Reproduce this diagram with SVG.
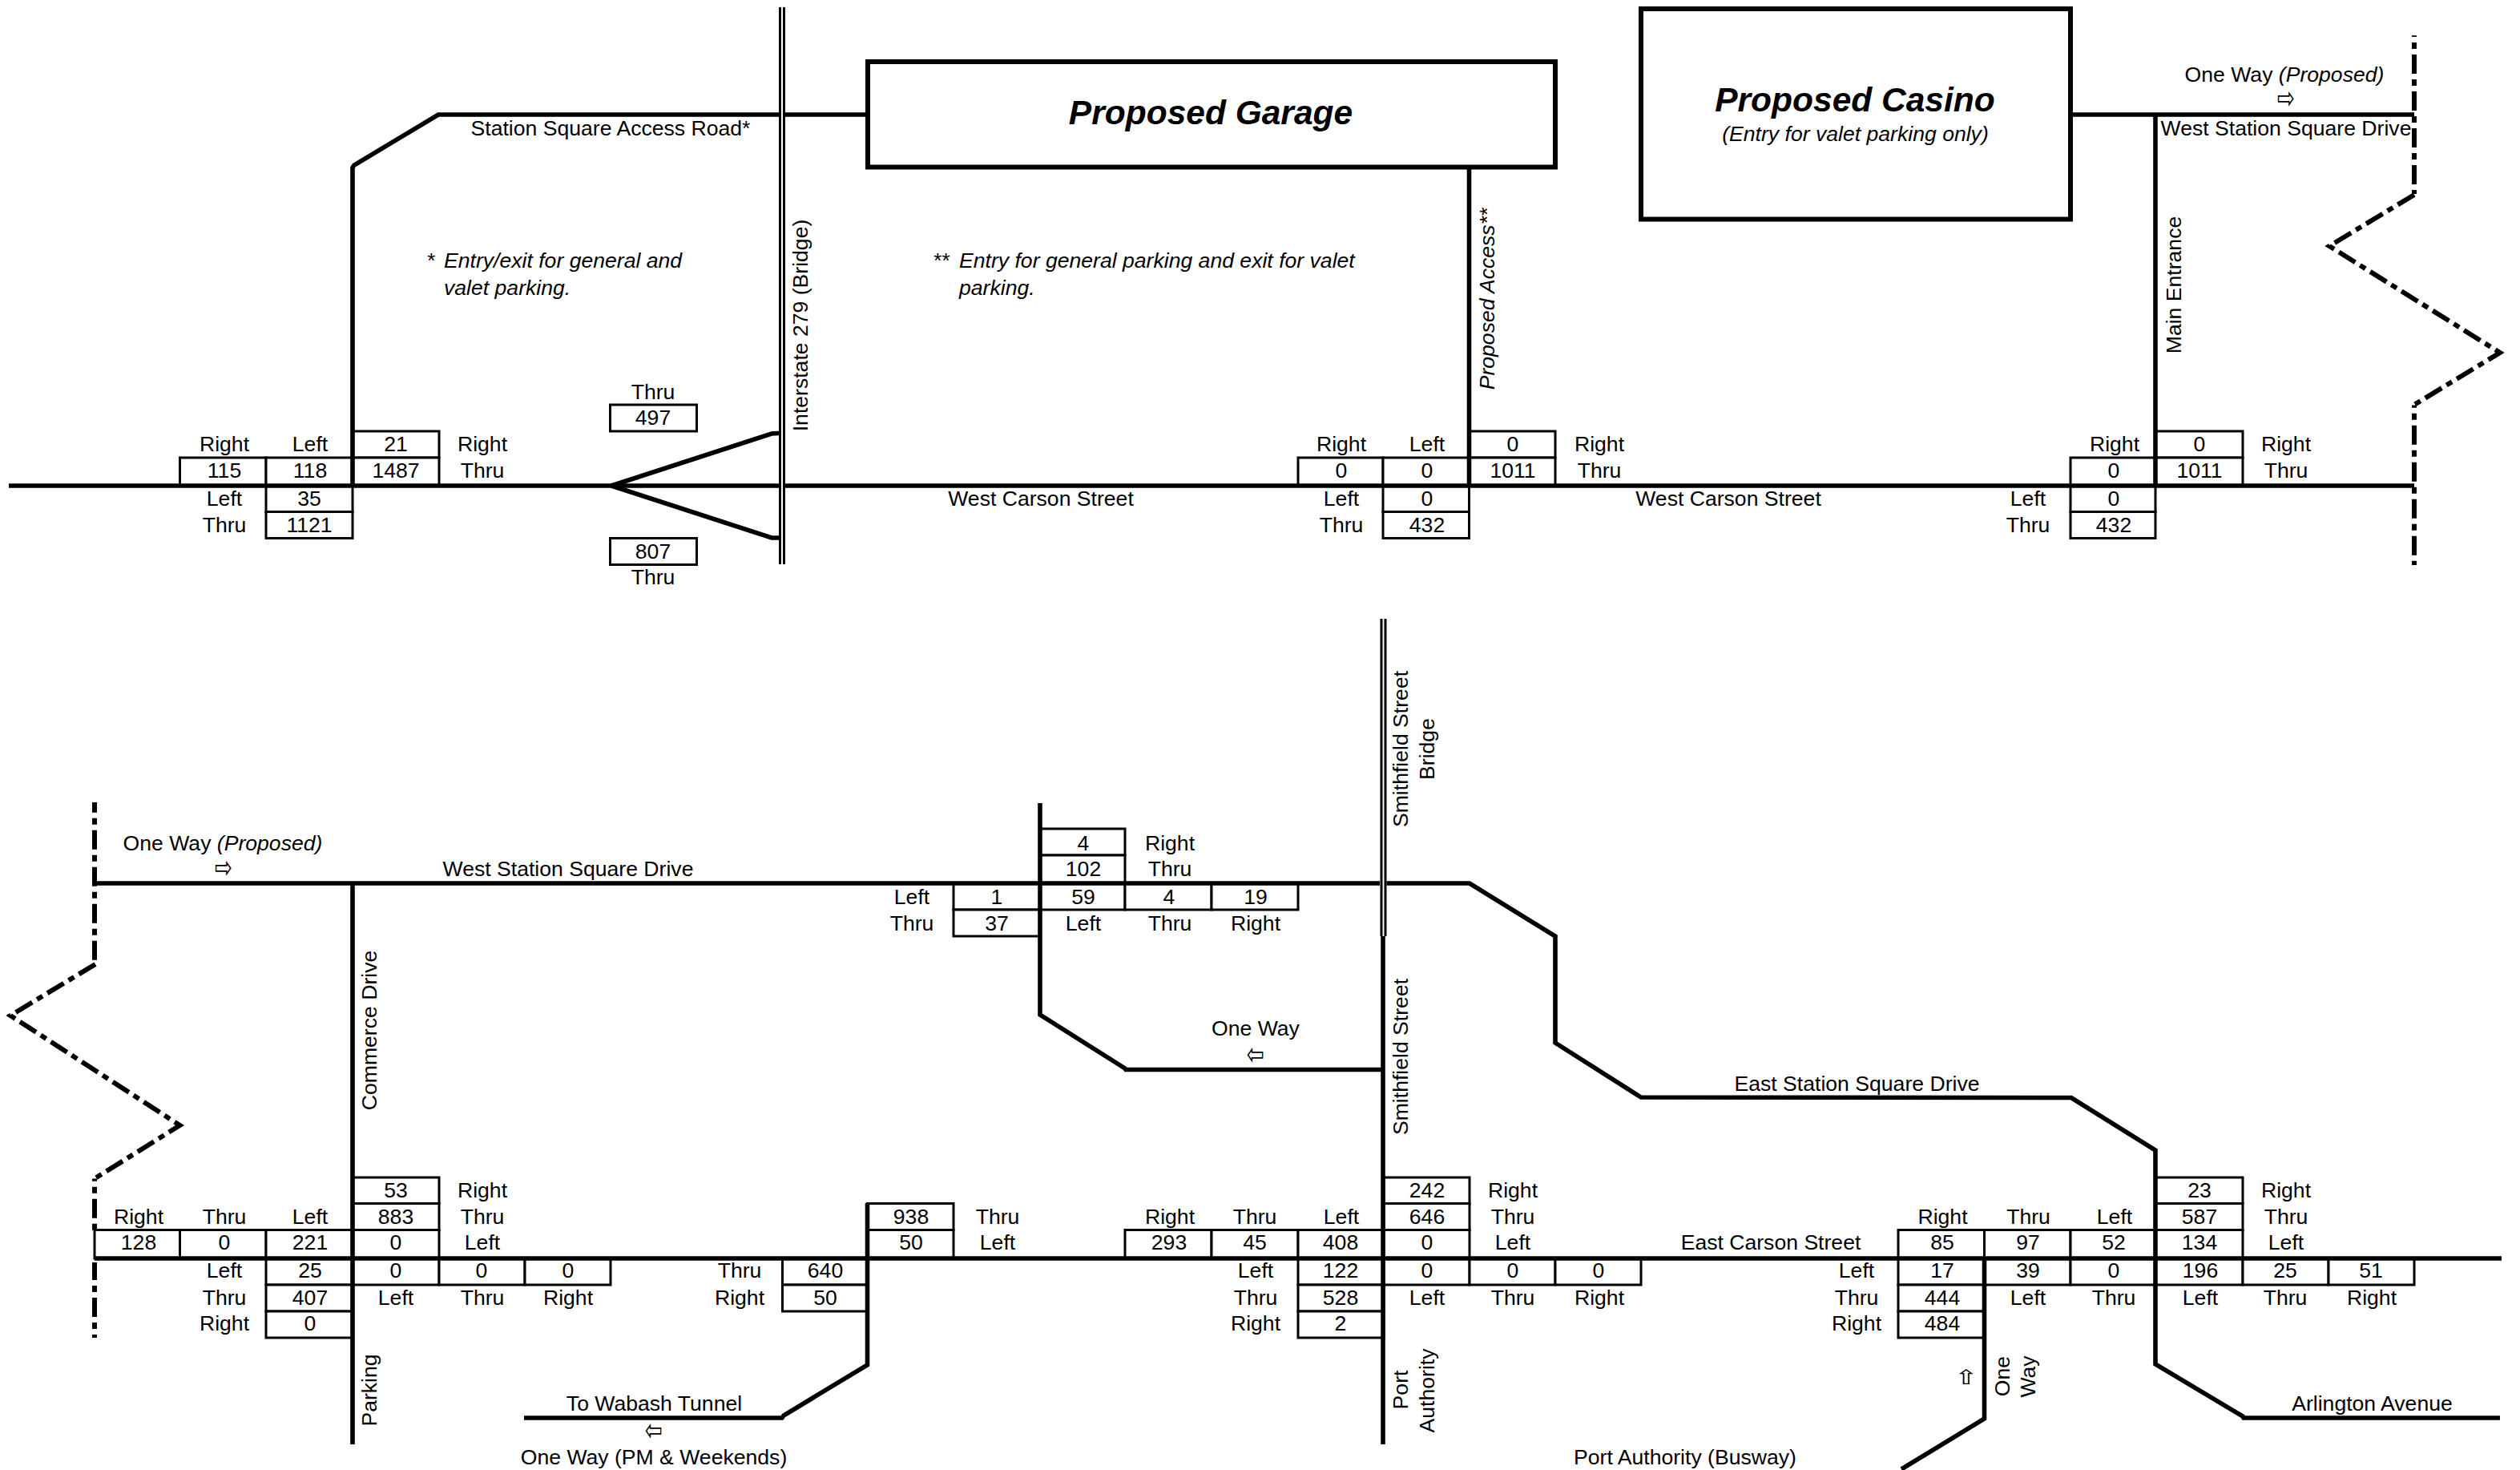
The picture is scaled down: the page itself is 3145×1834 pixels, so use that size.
<svg xmlns="http://www.w3.org/2000/svg" width="3145" height="1834" viewBox="0 0 3145 1834">
<style>
text{font-family:"Liberation Sans",Arial,sans-serif;font-size:26.6px;fill:#000;text-anchor:middle}
.i{font-style:italic}
.s{text-anchor:start}
.h{font-size:42.5px;font-weight:bold;font-style:italic}
.a{font-family:"DejaVu Sans",sans-serif;font-size:25px}
.b rect{fill:#fff;stroke:#000;stroke-width:3}
.r{fill:none;stroke:#000;stroke-width:5.6}
.d{fill:none;stroke:#000;stroke-width:6;stroke-dasharray:24 7 8 7}
.l{fill:#fff;stroke:#000;stroke-width:6}
.br{stroke:#000;stroke-width:3;fill:none}
</style>
<rect width="3145" height="1834" fill="#fff"/>
<g id="boundaries">
<path class="d" stroke-dashoffset="22.3" d="M3013 44.3V242"/>
<path class="d" d="M3013 243L2907 307L3120 440L3013 505"/>
<path class="d" stroke-dashoffset="20.8" d="M3013 505.500V705"/>
<path class="d" stroke-dashoffset="11.3" d="M118 1001V1198.300"/>
<path class="d" d="M119 1203L13 1267L224.500 1404L118 1470.500"/>
<path class="d" stroke-dashoffset="20.8" d="M118 1470.500V1535"/>
<path class="d" stroke-dashoffset="2" d="M118 1575V1669"/>
</g>
<g id="int-top-1" class="b">
<rect x="224.500" y="571" width="107.500" height="35"/><rect x="332" y="571" width="108" height="35"/>
<rect x="440" y="538" width="108" height="33"/><rect x="440" y="571" width="108" height="35"/>
<rect x="332" y="606" width="108" height="32.500"/><rect x="332" y="638.500" width="108" height="33"/>
<text x="280" y="563">Right</text><text x="387" y="563">Left</text><text x="602" y="563">Right</text><text x="602" y="596">Thru</text>
<text x="280" y="596">115</text><text x="387" y="596">118</text><text x="494" y="563">21</text><text x="494" y="596">1487</text>
<text x="280" y="631">Left</text><text x="280" y="664">Thru</text><text x="386" y="631">35</text><text x="386" y="664">1121</text>
</g>
<g id="int-top-bridge" class="b">
<rect x="761.500" y="505" width="108" height="33"/><rect x="761.500" y="671.500" width="108" height="33"/>
<text x="815" y="498">Thru</text><text x="815" y="530">497</text><text x="815" y="697">807</text><text x="815" y="729">Thru</text>
</g>
<g id="int-top-2" class="b">
<rect x="1620" y="571" width="106" height="35"/><rect x="1726" y="571" width="107.500" height="35"/>
<rect x="1833.500" y="538" width="107.500" height="33"/><rect x="1833.500" y="571" width="107.500" height="35"/>
<rect x="1726" y="606" width="107.500" height="32.500"/><rect x="1726" y="638.500" width="107.500" height="33"/>
<text x="1674" y="563">Right</text><text x="1781" y="563">Left</text><text x="1996" y="563">Right</text><text x="1996" y="596">Thru</text>
<text x="1674" y="596">0</text><text x="1781" y="596">0</text><text x="1888" y="563">0</text><text x="1888" y="596">1011</text>
<text x="1674" y="631">Left</text><text x="1674" y="664">Thru</text><text x="1781" y="631">0</text><text x="1781" y="664">432</text>
</g>
<g id="int-top-3" class="b">
<rect x="2584" y="571" width="106" height="35"/><rect x="2690" y="538" width="109" height="33"/><rect x="2690" y="571" width="109" height="35"/>
<rect x="2584" y="606" width="106" height="32.500"/><rect x="2584" y="638.500" width="106" height="33"/>
<text x="2639" y="563">Right</text><text x="2853" y="563">Right</text><text x="2853" y="596">Thru</text>
<text x="2638" y="596">0</text><text x="2745" y="563">0</text><text x="2745" y="596">1011</text>
<text x="2531" y="631">Left</text><text x="2531" y="664">Thru</text><text x="2638" y="631">0</text><text x="2638" y="664">432</text>
</g>
<g id="garage"><rect class="l" x="1083" y="77" width="858" height="131.500"/><text class="h" x="1511" y="155">Proposed Garage</text></g>
<g id="casino"><rect class="l" x="2048" y="11" width="536" height="262.500"/><text class="h" x="2315" y="138.500">Proposed Casino</text><text class="i" x="2315.500" y="175.500">(Entry for valet parking only)</text></g>
<g id="int-bot-1" class="b">
<rect x="118" y="1534.500" width="106.500" height="35.500"/><rect x="224.500" y="1534.500" width="107.500" height="35.500"/><rect x="332" y="1534.500" width="108" height="35.500"/>
<rect x="440" y="1469" width="108" height="32.500"/><rect x="440" y="1501.500" width="108" height="33"/><rect x="440" y="1534.500" width="108" height="35.500"/>
<rect x="332" y="1570" width="108" height="33"/><rect x="332" y="1603" width="108" height="33"/><rect x="332" y="1636" width="108" height="33"/>
<rect x="440" y="1570" width="108" height="33"/><rect x="548" y="1570" width="107" height="33"/><rect x="655" y="1570" width="107" height="33"/>
<text x="173" y="1527">Right</text><text x="280" y="1527">Thru</text><text x="387" y="1527">Left</text>
<text x="173" y="1558.500">128</text><text x="280" y="1558.500">0</text><text x="387" y="1558.500">221</text>
<text x="494" y="1494">53</text><text x="494" y="1527">883</text><text x="494" y="1558.500">0</text>
<text x="602" y="1494">Right</text><text x="602" y="1527">Thru</text><text x="602" y="1558.500">Left</text>
<text x="280" y="1594">Left</text><text x="280" y="1628">Thru</text><text x="280" y="1660">Right</text>
<text x="387" y="1594">25</text><text x="387" y="1628">407</text><text x="387" y="1660">0</text>
<text x="494" y="1594">0</text><text x="601" y="1594">0</text><text x="709" y="1594">0</text>
<text x="494" y="1628">Left</text><text x="602" y="1628">Thru</text><text x="709" y="1628">Right</text>
</g>
<g id="int-bot-2" class="b">
<rect x="976.500" y="1570" width="106" height="33"/><rect x="976.500" y="1603" width="106" height="33"/>
<rect x="1082.500" y="1501.500" width="107.500" height="33"/><rect x="1082.500" y="1534.500" width="107.500" height="35.500"/>
<text x="923" y="1594">Thru</text><text x="923" y="1628">Right</text><text x="1030" y="1594">640</text><text x="1030" y="1628">50</text>
<text x="1137" y="1527">938</text><text x="1137" y="1558.500">50</text><text x="1245" y="1527">Thru</text><text x="1245" y="1558.500">Left</text>
</g>
<g id="int-mid" class="b">
<rect x="1298" y="1034" width="106" height="33"/><rect x="1298" y="1067" width="106" height="35"/>
<rect x="1190" y="1102" width="108" height="33"/><rect x="1190" y="1135" width="108" height="33"/>
<rect x="1298" y="1102" width="106" height="33"/><rect x="1404" y="1102" width="108" height="33"/><rect x="1512" y="1102" width="108" height="33"/>
<text x="1352" y="1061">4</text><text x="1352" y="1093">102</text><text x="1460" y="1061">Right</text><text x="1460" y="1093">Thru</text>
<text x="1138" y="1127.500">Left</text><text x="1138" y="1161">Thru</text><text x="1244" y="1127.500">1</text><text x="1244" y="1161">37</text>
<text x="1352" y="1127.500">59</text><text x="1459" y="1127.500">4</text><text x="1567" y="1127.500">19</text>
<text x="1352" y="1161">Left</text><text x="1460" y="1161">Thru</text><text x="1567" y="1161">Right</text>
</g>
<g id="int-bot-3" class="b">
<rect x="1404" y="1534.500" width="108" height="35.500"/><rect x="1512" y="1534.500" width="108" height="35.500"/><rect x="1620" y="1534.500" width="107" height="35.500"/>
<rect x="1727" y="1469" width="107" height="32.500"/><rect x="1727" y="1501.500" width="107" height="33"/><rect x="1727" y="1534.500" width="107" height="35.500"/>
<rect x="1620" y="1570" width="107" height="33"/><rect x="1620" y="1603" width="107" height="33"/><rect x="1620" y="1636" width="107" height="33"/>
<rect x="1727" y="1570" width="107" height="33"/><rect x="1834" y="1570" width="107" height="33"/><rect x="1941" y="1570" width="107" height="33"/>
<text x="1460" y="1527">Right</text><text x="1566" y="1527">Thru</text><text x="1674" y="1527">Left</text>
<text x="1459" y="1558.500">293</text><text x="1566" y="1558.500">45</text><text x="1673" y="1558.500">408</text>
<text x="1781" y="1494">242</text><text x="1781" y="1527">646</text><text x="1781" y="1558.500">0</text>
<text x="1888" y="1494">Right</text><text x="1888" y="1527">Thru</text><text x="1888" y="1558.500">Left</text>
<text x="1567" y="1594">Left</text><text x="1567" y="1628">Thru</text><text x="1567" y="1660">Right</text>
<text x="1673" y="1594">122</text><text x="1673" y="1628">528</text><text x="1673" y="1660">2</text>
<text x="1781" y="1594">0</text><text x="1888" y="1594">0</text><text x="1995" y="1594">0</text>
<text x="1781" y="1628">Left</text><text x="1888" y="1628">Thru</text><text x="1996" y="1628">Right</text>
</g>
<g id="int-bot-4" class="b">
<rect x="2369" y="1534.500" width="107.500" height="35.500"/><rect x="2476.500" y="1534.500" width="107.500" height="35.500"/><rect x="2584" y="1534.500" width="106" height="35.500"/>
<rect x="2690" y="1469" width="109" height="32.500"/><rect x="2690" y="1501.500" width="109" height="33"/><rect x="2690" y="1534.500" width="109" height="35.500"/>
<rect x="2369" y="1570" width="107.500" height="33"/><rect x="2369" y="1603" width="107.500" height="33"/><rect x="2369" y="1636" width="107.500" height="33"/>
<rect x="2476.500" y="1570" width="107.500" height="33"/><rect x="2584" y="1570" width="106" height="33"/><rect x="2690" y="1570" width="109" height="33"/><rect x="2799" y="1570" width="107" height="33"/><rect x="2906" y="1570" width="107" height="33"/>
<text x="2424.500" y="1527">Right</text><text x="2531.500" y="1527">Thru</text><text x="2639" y="1527">Left</text>
<text x="2424" y="1558.500">85</text><text x="2531" y="1558.500">97</text><text x="2638" y="1558.500">52</text>
<text x="2745" y="1494">23</text><text x="2745" y="1527">587</text><text x="2745" y="1558.500">134</text>
<text x="2853" y="1494">Right</text><text x="2853" y="1527">Thru</text><text x="2853" y="1558.500">Left</text>
<text x="2317" y="1594">Left</text><text x="2317" y="1628">Thru</text><text x="2317" y="1660">Right</text>
<text x="2424" y="1594">17</text><text x="2424" y="1628">444</text><text x="2424" y="1660">484</text>
<text x="2531" y="1594">39</text><text x="2638" y="1594">0</text><text x="2746" y="1594">196</text><text x="2852" y="1594">25</text><text x="2959" y="1594">51</text>
<text x="2531" y="1628">Left</text><text x="2638" y="1628">Thru</text><text x="2746" y="1628">Left</text><text x="2852" y="1628">Thru</text><text x="2960" y="1628">Right</text>
</g>
<g id="connectors">
<path class="r" d="M11 606H972M980 606H3013"/>
<path class="r" d="M440 606V209L442 206L547 143H972M980 143H1083"/>
<path class="r" d="M763 606L963 541L972 540.500M763 606L963 671L972 671"/>
<path class="br" d="M973.500 9V704M978.500 9V704"/>
<path class="r" d="M1833.500 208V606"/>
<path class="r" d="M2584 143H3013M2690 143V606"/>
<path class="r" d="M118 1570H3122"/>
<path class="r" d="M118 1102H1722M1730.500 1102H1834L1941 1168V1301L2048 1369L2585 1369.500L2690 1435V1702L2799 1767L2800 1769H3120"/>
<path class="r" d="M440 1102V1802"/>
<path class="r" d="M1298 1002V1266L1404 1333L1405 1334.500H1726"/>
<path class="r" d="M1726 1168V1802"/>
<path class="br" d="M1724 772V1168M1729 772V1168"/>
<path class="r" d="M1082.500 1501V1703L978 1766L976 1769H654"/>
<path class="r" d="M2476.500 1570V1770L2373 1833"/>
</g>
<g id="labels">
<text x="762" y="169">Station Square Access Road*</text>
<text class="i s" x="532" y="334">*</text><text class="i s" x="554" y="334">Entry/exit for general and</text><text class="i s" x="554" y="368">valet parking.</text>
<text class="i s" x="1164" y="334">**</text><text class="i s" x="1197" y="334">Entry for general parking and exit for valet</text><text class="i s" x="1197" y="368">parking.</text>
<text transform="translate(1008 406) rotate(-90)">Interstate 279 (Bridge)</text>
<text class="i" transform="translate(1865 373) rotate(-90)">Proposed Access**</text>
<text x="1299" y="631">West Carson Street</text>
<text x="2157" y="631">West Carson Street</text>
<text x="2851" y="101.500">One Way <tspan class="i">(Proposed)</tspan></text>
<text class="a" transform="translate(2853 122.500) scale(1.05 1.5)" y="8.500">⇨</text>
<text x="2853" y="169">West Station Square Drive</text>
<text transform="translate(2722 355.500) rotate(-90)">Main Entrance</text>
<text x="278" y="1061">One Way <tspan class="i">(Proposed)</tspan></text>
<text class="a" transform="translate(279 1082) scale(1.05 1.5)" y="8.500">⇨</text>
<text x="709" y="1093">West Station Square Drive</text>
<text transform="translate(470 1285.500) rotate(-90)">Commerce Drive</text>
<text transform="translate(470 1734.500) rotate(-90)">Parking</text>
<text x="816.500" y="1760">To Wabash Tunnel</text>
<text class="a" transform="translate(816 1784.500) scale(1.05 1.5)" y="8.500">⇦</text>
<text x="816" y="1827">One Way (PM &amp; Weekends)</text>
<text x="1567" y="1292">One Way</text>
<text class="a" transform="translate(1567 1315) scale(1.05 1.5)" y="8.500">⇦</text>
<text transform="translate(1756.500 934.500) rotate(-90)">Smithfield Street</text>
<text transform="translate(1790 934.500) rotate(-90)">Bridge</text>
<text transform="translate(1756.500 1318.500) rotate(-90)">Smithfield Street</text>
<text transform="translate(1756.500 1734) rotate(-90)">Port</text>
<text transform="translate(1790 1735) rotate(-90)">Authority</text>
<text x="2103" y="1827">Port Authority (Busway)</text>
<text x="2317.500" y="1361">East Station Square Drive</text>
<text x="2210" y="1558.500">East Carson Street</text>
<text class="a" transform="translate(2453.700 1718) scale(1.45 1)" y="9">⇧</text>
<text transform="translate(2507.500 1717) rotate(-90)">One</text>
<text transform="translate(2540 1717.500) rotate(-90)">Way</text>
<text x="2960.500" y="1760">Arlington Avenue</text>
</g>
</svg>
